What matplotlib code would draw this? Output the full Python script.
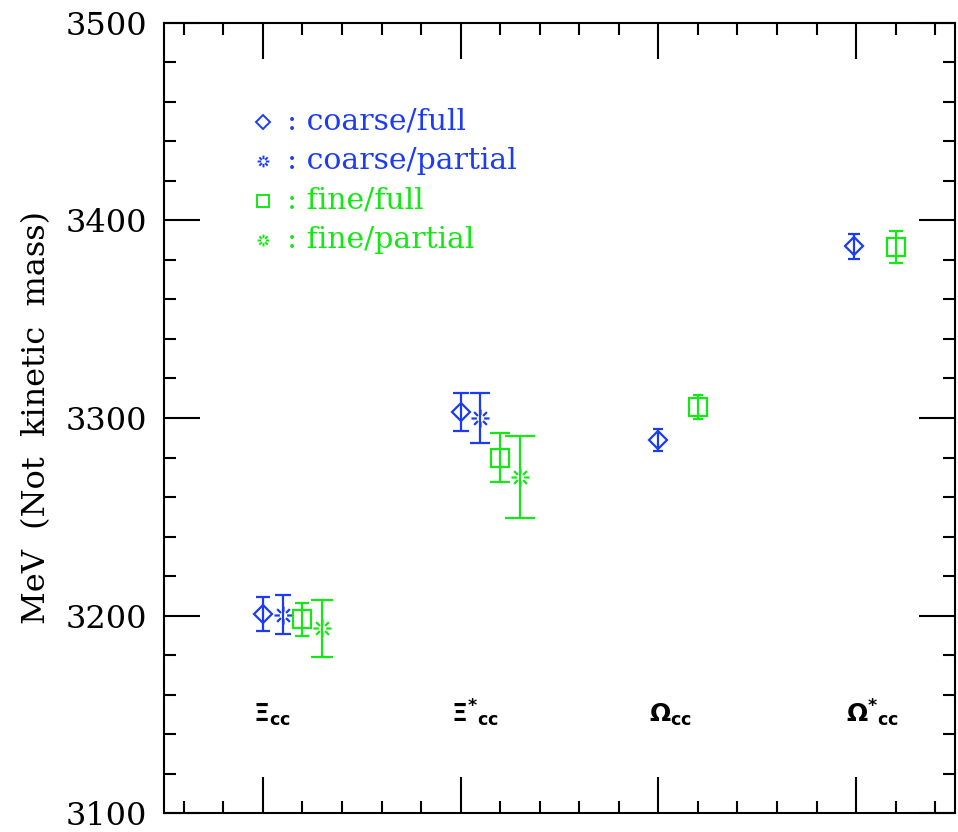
import numpy as np
import matplotlib.pyplot as plt
from matplotlib.path import Path
from matplotlib.ticker import MultipleLocator

# baryon states (label positions on the x axis)
states = [r'$\mathbf{\Xi}_{\mathbf{cc}}$', r'$\mathbf{\Xi}^{\mathbf{*}}{}_{\mathbf{cc}}$',
          r'$\mathbf{\Omega}_{\mathbf{cc}}$', r'$\mathbf{\Omega}^{\mathbf{*}}{}_{\mathbf{cc}}$']
state_x = [1, 2, 3, 4]

# masses in MeV
coarse_full_x = [1.0, 2.0, 3.0, 3.99]
coarse_full = [3201, 3303, 3289, 3387]
coarse_full_err = [8.6, 9.6, 5.5, 6.4]

coarse_partial_x = [1.1, 2.1]
coarse_partial = [3200.5, 3300]
coarse_partial_err = [10.0, 12.5]

fine_full_x = [1.2, 2.2, 3.2, 4.2]
fine_full = [3198, 3280, 3305.6, 3386.6]
fine_full_err = [8.3, 12.6, 6.1, 8.1]

fine_partial_x = [1.3, 2.3]
fine_partial = [3193.5, 3270]
fine_partial_err = [14.5, 20.8]

legend_labels = [': coarse/full', ': coarse/partial', ': fine/full', ': fine/partial']

BLUE = '#1c3cf4'
GREEN = '#14e814'

# pgplot-like "burst" marker: 8 short radial dashes
verts, codes = [], []
for a in np.deg2rad(np.arange(0, 360, 45)):
    verts += [(0.4 * np.cos(a), 0.4 * np.sin(a)), (np.cos(a), np.sin(a))]
    codes += [Path.MOVETO, Path.LINETO]
burst = Path(verts, codes)

plt.rcParams['font.family'] = 'DejaVu Serif'
fig = plt.figure(figsize=(9.58, 8.32), dpi=100)
ax = fig.add_axes([0.1712, 0.0228, 0.8257, 0.9496])


def draw(xs, ys, errs, marker, ms, color):
    for x, y, e in zip(xs, ys, errs):
        ax.errorbar(x, y, yerr=e, fmt='none', ecolor=color, elinewidth=1.6,
                    capsize=1.0 + 0.48 * e, capthick=1.6)
        ax.plot(x, y, marker=marker, ms=ms, mfc='none', mec=color, mew=1.6,
                linestyle='none')


draw(coarse_full_x, coarse_full, coarse_full_err, 'D', 9.3, BLUE)
draw(coarse_partial_x, coarse_partial, coarse_partial_err, burst, 13, BLUE)
draw(fine_full_x, fine_full, fine_full_err, 's', 13, GREEN)
draw(fine_partial_x, fine_partial, fine_partial_err, burst, 13, GREEN)

# hand-made key in the upper left
key_markers = ['D', burst, 's', burst]
key_sizes = [7, 8.5, 8.5, 8.5]
key_colors = [BLUE, BLUE, GREEN, GREEN]
for i, (lab, m, s, c) in enumerate(zip(legend_labels, key_markers, key_sizes, key_colors)):
    yk = 3450 - 20 * i
    ax.plot(1.0, yk, marker=m, ms=s, mfc='none', mec=c, mew=1.4, linestyle='none')
    ax.text(1.12, yk, lab, color=c, fontsize=21.5, va='center', ha='left')

for x, lab in zip(state_x, states):
    ax.text(x - 0.05, 3146, lab, fontsize=18, ha='left', va='baseline')

ax.set_xlim(0.5, 4.5)
ax.set_ylim(3100, 3500)
ax.xaxis.set_major_locator(MultipleLocator(1))
ax.xaxis.set_minor_locator(MultipleLocator(0.2))
ax.yaxis.set_major_locator(MultipleLocator(100))
ax.yaxis.set_minor_locator(MultipleLocator(20))
ax.tick_params(which='both', direction='in', top=True, right=True, width=1.5)
ax.tick_params(which='major', length=26)
ax.tick_params(which='minor', length=8.6)
ax.tick_params(axis='x', labelbottom=False)
ax.tick_params(axis='y', labelsize=23, pad=12)
for sp in ax.spines.values():
    sp.set_linewidth(1.5)

ax.set_ylabel('MeV  (Not  kinetic  mass)', fontsize=23, labelpad=10)

fig.savefig('out.png', dpi=100)
